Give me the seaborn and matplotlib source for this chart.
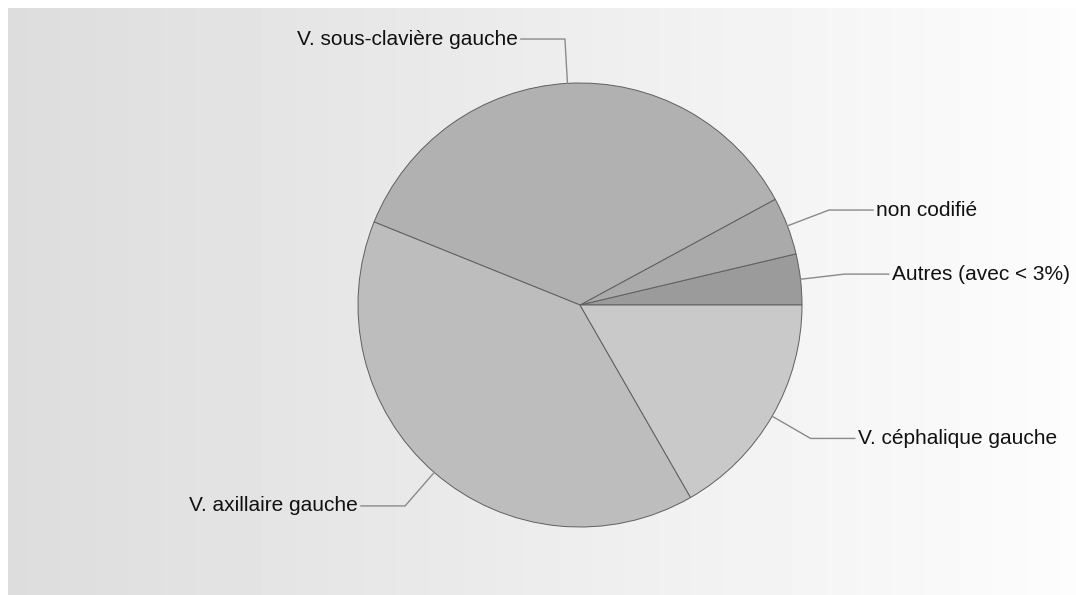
import matplotlib.pyplot as plt
import numpy as np
import seaborn as sns

# slice data, counter-clockwise from 3 o'clock
labels = [
    "Autres (avec < 3%)",
    "non codifié",
    "V. sous-clavière gauche",
    "V. axillaire gauche",
    "V. céphalique gauche",
]
shares = [3.7, 4.2, 36.0, 39.4, 16.7]
slice_colors = ["#9b9b9b", "#aaaaaa", "#b1b1b1", "#bdbdbd", "#c9c9c9"]

sns.set_theme(style="white")
plt.rcParams["font.family"] = ["Liberation Sans", "DejaVu Sans"]

W, H, DPI = 1076, 595, 100
fig = plt.figure(figsize=(W / DPI, H / DPI), dpi=DPI)
fig.patch.set_facecolor("white")

# gradient background panel
bg = fig.add_axes([8 / W, 0, 1 - 8 / W, (H - 8) / H])
grad = np.linspace(0.865, 0.99, 256).reshape(1, -1)
bg.imshow(grad, cmap="gray", vmin=0, vmax=1, aspect="auto", extent=[0, 1, 0, 1])
bg.set_axis_off()

# pie axes over the whole figure, 1 data unit = radius in pixels
radius_px = 222
cx, cy = 580, 305
ax = fig.add_axes([0, 0, 1, 1])
ax.patch.set_alpha(0)

wedges, _ = ax.pie(
    shares,
    colors=slice_colors,
    startangle=0,
    counterclock=True,
    radius=1,
    wedgeprops={"edgecolor": "#5f5f5f", "linewidth": 0.7},
)
ax.set_xlim(-cx / radius_px, (W - cx) / radius_px)
ax.set_ylim(-(H - cy) / radius_px, cy / radius_px)
ax.set_axis_off()

for w, lab in zip(wedges, labels):
    mid = np.deg2rad((w.theta1 + w.theta2) / 2)
    x0, y0 = np.cos(mid), np.sin(mid)
    x1, y1 = 1.2 * x0, 1.2 * y0
    side = 1 if x0 >= 0 else -1
    x2 = x1 + side * 0.2
    ax.plot([x0, x1, x2], [y0, y1, y1], color="#8a8a8a", lw=1.0, solid_joinstyle="miter")
    ax.text(
        x2 + side * 0.012, y1, lab,
        ha="left" if side > 0 else "right", va="center",
        fontsize=15, color="#111111",
    )

fig.savefig("out.png", dpi=DPI)
